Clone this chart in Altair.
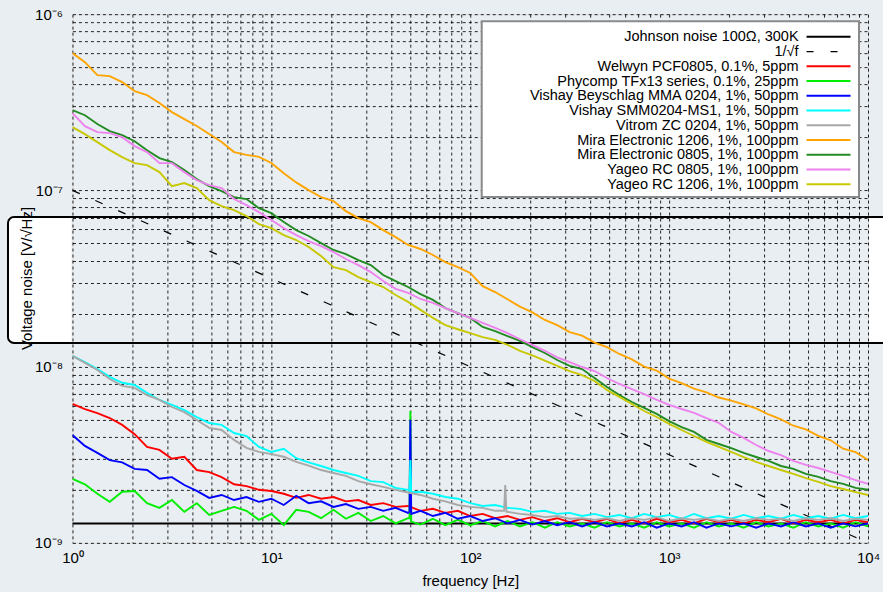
import altair as alt
import pandas as pd

# ---------------- data ----------------
FREQ = [1, 1.155, 1.334, 1.54, 1.778, 2.054, 2.371, 2.738, 3.162, 3.652, 4.217, 4.87, 5.623, 6.494, 7.499, 8.66,
        10, 11.55, 13.34, 15.4, 17.78, 20.54, 23.71, 27.38, 31.62, 36.52, 42.17, 48.7, 56.23, 64.94, 74.99, 86.6,
        100, 115.5, 133.4, 154, 177.8, 205.4, 237.1, 273.8, 316.2, 365.2, 421.7, 487, 562.3, 649.4, 749.9, 866,
        1000, 1155, 1334, 1540, 1778, 2054, 2371, 2738, 3162, 3652, 4217, 4870, 5623, 6494, 7499, 8660, 10000]

# noise density in nV/sqrt(Hz)
WELWYN = [6.14, 5.74, 5.45, 5.11, 4.67, 4.14, 3.5, 3.37, 3.0, 3.08, 2.59, 2.52, 2.36, 2.15, 2.1, 2.0, 1.97, 1.9, 1.8, 1.87,
          1.78, 1.82, 1.72, 1.75, 1.64, 1.68, 1.6, 1.62, 1.52, 1.56, 1.48, 1.52, 1.42, 1.46, 1.38, 1.42, 1.35, 1.40, 1.33, 1.38,
          1.31, 1.37, 1.31, 1.37, 1.29, 1.35, 1.29, 1.37, 1.31, 1.35, 1.29, 1.37, 1.31, 1.35, 1.29, 1.35, 1.31, 1.37, 1.29, 1.35,
          1.31, 1.35, 1.29, 1.35, 1.31]
PHYCOMP = [2.31, 2.15, 1.9, 1.71, 1.95, 1.97, 1.68, 1.58, 1.75, 1.5, 1.68, 1.44, 1.52, 1.6, 1.52, 1.35, 1.46, 1.26, 1.54, 1.5,
           1.38, 1.54, 1.37, 1.48, 1.33, 1.42, 1.29, 1.38, 1.27, 1.37, 1.26, 1.35, 1.26, 1.33, 1.24, 1.33, 1.24, 1.31, 1.22, 1.31,
           1.24, 1.29, 1.22, 1.31, 1.24, 1.29, 1.22, 1.31, 1.24, 1.29, 1.22, 1.31, 1.24, 1.29, 1.22, 1.31, 1.24, 1.29, 1.22, 1.31,
           1.24, 1.29, 1.22, 1.31, 1.24]
VISHAY_MMA = [4.09, 3.55, 3.24, 2.95, 2.86, 2.63, 2.59, 2.31, 2.36, 2.13, 1.97, 1.8, 1.87, 1.75, 1.82, 1.71, 1.78, 1.64, 1.85, 1.68,
              1.72, 1.6, 1.66, 1.56, 1.6, 1.52, 1.58, 1.48, 1.52, 1.42, 1.48, 1.37, 1.42, 1.33, 1.38, 1.29, 1.35, 1.27, 1.33, 1.26,
              1.31, 1.24, 1.31, 1.24, 1.29, 1.24, 1.31, 1.22, 1.29, 1.24, 1.31, 1.22, 1.29, 1.24, 1.29, 1.22, 1.29, 1.24, 1.31, 1.24,
              1.29, 1.22, 1.29, 1.24, 1.29]
VISHAY_SMM = [11.5, 10.6, 9.7, 8.75, 8.1, 7.87, 7.1, 6.47, 6.06, 5.67, 5.17, 4.79, 4.67, 4.2, 4.04, 3.5, 3.28, 3.42, 3.02, 2.86,
              2.73, 2.59, 2.49, 2.4, 2.24, 2.21, 2.05, 2.0, 1.95, 1.90, 1.82, 1.78, 1.68, 1.62, 1.64, 1.58, 1.56, 1.5, 1.52, 1.46,
              1.48, 1.42, 1.46, 1.40, 1.44, 1.38, 1.46, 1.40, 1.44, 1.37, 1.46, 1.38, 1.42, 1.37, 1.44, 1.38, 1.42, 1.37, 1.44, 1.38,
              1.42, 1.37, 1.44, 1.38, 1.42]
VITROM = [11.5, 10.5, 9.57, 8.5, 7.77, 7.57, 6.9, 6.47, 5.9, 5.52, 4.98, 4.49, 4.37, 3.84, 3.46, 3.28, 3.19, 3.08, 2.88, 2.74,
          2.59, 2.49, 2.4, 2.24, 2.15, 2.08, 2.0, 1.93, 1.87, 1.78, 1.72, 1.64, 1.6, 1.58, 1.52, 1.50, 1.46, 1.44, 1.40, 1.42,
          1.37, 1.38, 1.35, 1.38, 1.33, 1.38, 1.35, 1.40, 1.33, 1.38, 1.35, 1.38, 1.33, 1.37, 1.33, 1.38, 1.35, 1.37, 1.33, 1.38,
          1.35, 1.38, 1.33, 1.37, 1.35]
MIRA_1206 = [601, 534, 451, 445, 412, 366, 347, 313, 278, 254, 232, 209, 188, 165, 159, 155, 143, 125, 111, 100.4,
             91.6, 87, 76.3, 69.6, 66.1, 59.5, 54.3, 49, 46.5, 43, 39.2, 36.7, 34, 28.6, 26.5, 24.1, 21.9, 20.3, 18.4, 17.2,
             15.7, 15.0, 13.7, 12.9, 11.8, 11.0, 10.0, 9.5, 8.55, 8.05, 7.5, 7.15, 6.68, 6.42, 6.1, 5.8, 5.35, 5.02, 4.62, 4.41,
             4.05, 3.82, 3.42, 3.27, 2.95]
MIRA_0805 = [285.5, 267, 238, 217, 206, 190, 169, 152.5, 144.7, 130.4, 115.9, 105.8, 99.1, 91.6, 89.3, 79.3, 74.3, 66.1, 59.5, 55.1,
             50.2, 45.9, 43.5, 40.2, 37.7, 33.1, 30.6, 28.3, 25.8, 23.9, 21.5, 20.1, 18.9, 16.8, 15.9, 14.9, 14.0, 12.9, 11.95, 10.9,
             10.1, 9.69, 8.62, 7.66, 6.90, 6.30, 5.83, 5.39, 4.91, 4.54, 4.26, 3.84, 3.64, 3.45, 3.24, 3.07, 2.92, 2.73, 2.63, 2.46,
             2.37, 2.24, 2.16, 2.05, 2.00]
YAGEO_0805 = [274.5, 231.6, 214.1, 211.3, 200.6, 178.4, 165, 142.8, 142.8, 127, 114.4, 107.2, 103.1, 89.3, 82.5, 75.3, 67.9, 61.1, 55.8, 51.6,
              48.3, 44.7, 40.8, 37.7, 34.4, 30.6, 27.6, 26.2, 24.2, 23.0, 21.5, 20.1, 18.9, 17.7, 16.6, 15.5, 14.3, 13.3, 12.3, 11.3,
              10.6, 9.95, 9.44, 8.62, 7.97, 7.46, 6.99, 6.47, 6.06, 5.75, 5.46, 5.11, 4.79, 4.26, 3.94, 3.59, 3.32, 3.15, 2.92, 2.77,
              2.66, 2.53, 2.40, 2.27, 2.16]
YAGEO_1206 = [228.6, 208.7, 187.9, 169.3, 154.5, 142.8, 139.2, 127, 105.8, 110, 103.1, 88.1, 81.5, 77.3, 71.5, 64.4, 61.1, 55.8, 52.3, 47.7,
              42.4, 36.7, 35.3, 32.2, 30.2, 28.3, 25.5, 23.3, 21.0, 18.9, 17.2, 16.3, 15.5, 14.7, 14.2, 13.3, 12.3, 11.6, 10.8, 10.1,
              9.44, 8.96, 8.29, 7.37, 6.73, 6.14, 5.60, 5.18, 4.73, 4.37, 4.04, 3.74, 3.50, 3.28, 3.07, 2.88, 2.73, 2.59, 2.46, 2.33,
              2.22, 2.10, 2.02, 1.94, 1.87]

# mains pick-up spikes
SPIKE_F_50 = [49.5, 50.0, 50.5]
PHYCOMP_SPIKE = [1.38, 5.6, 1.32]
VISHAY_MMA_SPIKE = [1.5, 5.0, 1.46]
VISHAY_SMM_SPIKE = [1.97, 2.95, 1.94]
SPIKE_F_150 = [148.0, 150.0, 152.0]
VITROM_SPIKE = [1.52, 2.13, 1.50]

# reference lines
JOHNSON_F = [1, 10000]
JOHNSON_NV = [1.287, 1.287]
INVSQRT_F = [1, 10000]
INVSQRT_NV = [100, 1]

SERIES = [
    ("Welwyn PCF0805, 0.1%, 5ppm", "#ff0000", WELWYN, [], []),
    ("Phycomp TFx13 series, 0.1%, 25ppm", "#00ee00", PHYCOMP, SPIKE_F_50, PHYCOMP_SPIKE),
    ("Vishay Beyschlag MMA 0204, 1%, 50ppm", "#0000ff", VISHAY_MMA, SPIKE_F_50, VISHAY_MMA_SPIKE),
    ("Vishay SMM0204-MS1, 1%, 50ppm", "#00ffff", VISHAY_SMM, SPIKE_F_50, VISHAY_SMM_SPIKE),
    ("Vitrom ZC 0204, 1%, 50ppm", "#a8a8a8", VITROM, SPIKE_F_150, VITROM_SPIKE),
    ("Mira Electronic 1206, 1%, 100ppm", "#ffa500", MIRA_1206, [], []),
    ("Mira Electronic 0805, 1%, 100ppm", "#228b22", MIRA_0805, [], []),
    ("Yageo RC 0805, 1%, 100ppm", "#ee82ee", YAGEO_0805, [], []),
    ("Yageo RC 1206, 1%, 100ppm", "#c8c800", YAGEO_1206, [], []),
]

X_TICKS = [1, 2, 3, 4, 5, 6, 7, 8, 9, 10, 20, 30, 40, 50, 60, 70, 80, 90,
           100, 200, 300, 400, 500, 600, 700, 800, 900,
           1000, 2000, 3000, 4000, 5000, 6000, 7000, 8000, 9000, 10000]
Y_TICKS = [1e-9, 2e-9, 3e-9, 4e-9, 5e-9, 6e-9, 7e-9, 8e-9, 9e-9,
           1e-8, 2e-8, 3e-8, 4e-8, 5e-8, 6e-8, 7e-8, 8e-8, 9e-8,
           1e-7, 2e-7, 3e-7, 4e-7, 5e-7, 6e-7, 7e-7, 8e-7, 9e-7, 1e-6]

FONT = "Liberation Sans"
W, H = 796, 529

xscale = alt.Scale(type="log", domain=[1, 10000], nice=False)
yscale = alt.Scale(type="log", domain=[1e-9, 1e-6], nice=False)

xaxis = alt.Axis(
    values=X_TICKS,
    labelExpr="datum.value == 1 ? '10⁰' : datum.value == 10 ? '10¹' : datum.value == 100 ? '10²' : "
              "datum.value == 1000 ? '10³' : datum.value == 10000 ? '10⁴' : ''",
    grid=True, gridColor="black", gridDash=[3, 3], gridWidth=1, gridOpacity=0.85,
    ticks=False, domain=False, labelOverlap=False, labelFlush=False,
    labelFont=FONT, labelFontSize=15, labelColor="black", labelPadding=8,
    title="frequency [Hz]", titleFont=FONT, titleFontSize=15, titleFontWeight="normal",
    titleColor="black", titlePadding=8,
)
yaxis = alt.Axis(
    values=Y_TICKS,
    labelExpr="abs(datum.value - 1e-9) < 1e-12 ? '10⁻⁹' : abs(datum.value - 1e-8) < 1e-11 ? '10⁻⁸' : "
              "abs(datum.value - 1e-7) < 1e-10 ? '10⁻⁷' : abs(datum.value - 1e-6) < 1e-9 ? '10⁻⁶' : ''",
    grid=True, gridColor="black", gridDash=[3, 3], gridWidth=1, gridOpacity=0.85,
    ticks=False, domain=False, labelOverlap=False, labelFlush=False,
    labelFont=FONT, labelFontSize=15, labelColor="black", labelPadding=10,
    title="",
)

one = pd.DataFrame({"k": [0]})


def series_df(freq, nv):
    df = pd.DataFrame({"f": freq, "nV": nv})
    df["V"] = df["nV"] * 1e-9
    return df.sort_values("f")


layers = []

# white page area inside the odd framed box (outside the plot area)
BOX_Y0, BOX_Y1 = 203, 329
layers.append(alt.Chart(one).mark_rect(fill="white", strokeWidth=0).encode(
    x=alt.value(-64.5), x2=alt.value(-1), y=alt.value(BOX_Y0), y2=alt.value(BOX_Y1)))
layers.append(alt.Chart(one).mark_rect(fill="white", strokeWidth=0).encode(
    x=alt.value(W + 1), x2=alt.value(W + 40), y=alt.value(BOX_Y0), y2=alt.value(BOX_Y1)))
layers.append(alt.Chart(one).mark_rect(fill="white", fillOpacity=0, stroke="black", strokeWidth=2,
                                       cornerRadius=6).encode(
    x=alt.value(-64.5), x2=alt.value(W + 40), y=alt.value(BOX_Y0), y2=alt.value(BOX_Y1)))

# Johnson noise and 1/sqrt(f) reference
layers.append(alt.Chart(series_df(JOHNSON_F, JOHNSON_NV)).mark_line(color="black", strokeWidth=2).encode(
    x=alt.X("f:Q", scale=xscale, axis=xaxis), y=alt.Y("V:Q", scale=yscale, axis=yaxis)))
layers.append(alt.Chart(series_df(INVSQRT_F, INVSQRT_NV)).mark_line(color="black", strokeWidth=1.2,
                                                                     strokeDash=[8, 17]).encode(
    x=alt.X("f:Q", scale=xscale, axis=xaxis), y=alt.Y("V:Q", scale=yscale, axis=yaxis)))

for label, color, vals, sf, sv in SERIES:
    df = series_df(list(FREQ) + list(sf), list(vals) + list(sv))
    layers.append(alt.Chart(df).mark_line(color=color, strokeWidth=1.9, clip=True).encode(
        x=alt.X("f:Q", scale=xscale, axis=xaxis), y=alt.Y("V:Q", scale=yscale, axis=yaxis)))

# legend box
LX0, LX1, LY0, LY1 = 409.5, 787, 7, 183
layers.append(alt.Chart(one).mark_rect(fill="white", stroke="#8a8a8a", strokeWidth=2).encode(
    x=alt.value(LX0), x2=alt.value(LX1), y=alt.value(LY0), y2=alt.value(LY1)))

legend_entries = [("Johnson noise 100Ω, 300K", "black", True), ("1/√f", "black", False)] + \
                 [(s[0], s[1], True) for s in SERIES]
ROW0, STEP = 22.7, 14.75
TEXT_X, S0, S1 = 726.5, 734.5, 778.5
for i, (label, color, solid) in enumerate(legend_entries):
    ry = ROW0 + STEP * i
    layers.append(alt.Chart(one).mark_text(text=label, align="right", baseline="middle", font=FONT,
                                           fontSize=14.5, color="black").encode(
        x=alt.value(TEXT_X), y=alt.value(ry + 0.5)))
    if solid:
        rule = alt.Chart(one).mark_rule(color=color, strokeWidth=2)
    else:
        rule = alt.Chart(one).mark_rule(color=color, strokeWidth=1.2, strokeDash=[7, 17])
    layers.append(rule.encode(x=alt.value(S0), x2=alt.value(S1), y=alt.value(ry), y2=alt.value(ry)))

# y axis title
layers.append(alt.Chart(one).mark_text(text="Voltage noise [V/√Hz]", angle=270, align="center",
                                       baseline="middle", font=FONT, fontSize=15, color="black").encode(
    x=alt.value(-45.5), y=alt.value(H / 2)))

chart = alt.layer(*layers).properties(
    width=W, height=H,
    autosize=alt.AutoSizeParams(type="none"),
    padding={"left": 72.5, "top": 14, "right": 15, "bottom": 49},
).configure_view(stroke="black", strokeWidth=1.5, fill="white").configure(background="#e9eef2")

chart.save("out.html", embed_options={"renderer": "svg", "actions": False})
